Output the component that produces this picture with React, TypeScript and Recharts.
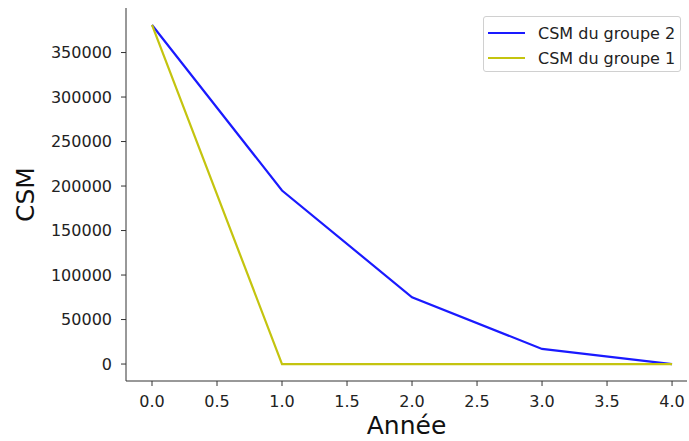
import { Line, LineChart, XAxis, YAxis, Label, Legend } from "recharts";

const annees = [0, 1, 2, 3, 4];
const csmGroupe2 = [381000, 195000, 75000, 17000, 0];
const csmGroupe1 = [381000, 0, 0, 0, 0];

const xTicks = [0, 0.5, 1, 1.5, 2, 2.5, 3, 3.5, 4];
const yTicks = [0, 50000, 100000, 150000, 200000, 250000, 300000, 350000];

const data = annees.map((a, i) => ({ annee: a, g2: csmGroupe2[i], g1: csmGroupe1[i] }));

const FONT = "'DejaVu Sans', sans-serif";
const BLUE = "#1a1aff";
const YELLOW = "#c4c40f";
const AXIS = "#333";

const series = [
  { name: "CSM du groupe 2", color: BLUE },
  { name: "CSM du groupe 1", color: YELLOW },
];

function MplLegend() {
  return (
    <div
      style={{
        position: "absolute",
        left: 483,
        top: 16,
        width: 198,
        height: 56,
        boxSizing: "border-box",
        border: "1px solid #d0d0d0",
        borderRadius: 3,
        background: "rgba(255,255,255,0.8)",
        fontFamily: FONT,
        fontSize: 16,
        color: "#222",
      }}
    >
      {series.map((s, i) => (
        <div
          key={s.name}
          style={{ position: "absolute", left: 4, top: 6 + i * 25, height: 20, display: "flex", alignItems: "center" }}
        >
          <div style={{ width: 37, height: 2, background: s.color, marginRight: 13 }} />
          <span style={{ whiteSpace: "nowrap" }}>{s.name}</span>
        </div>
      ))}
    </div>
  );
}

export default function App() {
  return (
    <div style={{ position: "fixed", left: 0, top: 0, width: 689, height: 441, background: "#fff" }}>
      <LineChart width={689} height={441} data={data} margin={{ top: 8, right: 2, left: 0, bottom: 0 }}>
        <XAxis
          dataKey="annee"
          type="number"
          domain={[-0.2, 4.115]}
          ticks={xTicks}
          allowDataOverflow
          tickFormatter={(v) => Number(v).toFixed(1)}
          height={60}
          stroke={AXIS}
          tickSize={5}
          tickMargin={10}
          tick={{ fill: "#222", fontSize: 16, fontFamily: FONT }}
        >
          <Label value="Année" position="insideBottom" offset={7} style={{ fill: "#111", fontSize: 25, fontFamily: FONT }} />
        </XAxis>
        <YAxis
          type="number"
          domain={[-19050, 400050]}
          ticks={yTicks}
          allowDataOverflow
          width={126}
          stroke={AXIS}
          tickSize={5}
          tickMargin={9}
          tick={{ fill: "#222", fontSize: 16, fontFamily: FONT }}
        >
          <Label
            value="CSM"
            angle={-90}
            position="insideLeft"
            offset={25}
            style={{ fill: "#111", fontSize: 25, fontFamily: FONT, textAnchor: "middle" }}
          />
        </YAxis>
        <Legend content={() => null} />
        <Line dataKey="g2" name="CSM du groupe 2" stroke={BLUE} strokeWidth={2.2} dot={false} isAnimationActive={false} />
        <Line dataKey="g1" name="CSM du groupe 1" stroke={YELLOW} strokeWidth={2.2} dot={false} isAnimationActive={false} />
      </LineChart>
      <MplLegend />
    </div>
  );
}
